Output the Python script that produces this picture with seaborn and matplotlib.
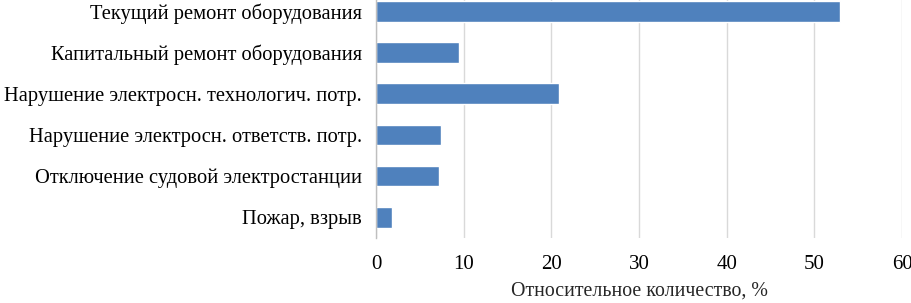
import matplotlib
matplotlib.use("Agg")
import matplotlib.pyplot as plt
import seaborn as sns
import pandas as pd

categories = [
    "Текущий ремонт оборудования",
    "Капитальный ремонт оборудования",
    "Нарушение электросн. технологич. потр.",
    "Нарушение электросн. ответств. потр.",
    "Отключение судовой электростанции",
    "Пожар, взрыв",
]
values = [52.9, 9.5, 20.9, 7.4, 7.2, 1.8]
xticks = [0, 10, 20, 30, 40, 50, 60]
xlabel = "Относительное количество, %"

sns.set_theme(style="white")
plt.rcParams['font.family'] = ['Liberation Serif', 'DejaVu Serif']

df = pd.DataFrame({"cat": categories, "val": values})

fig = plt.figure(figsize=(9.12, 3.03), dpi=100)
ax = fig.add_axes([0.4123, 0.2145, 0.5768, 0.8165])
sns.barplot(data=df, x="val", y="cat", orient="h", color="#4F81BD",
            saturation=1, width=0.5, ax=ax)
ax.set_xlim(0, 60)
ax.set_xticks(xticks)
ax.set_xticklabels([str(t) for t in xticks], fontsize=15)
ax.set_ylim(5.5, -0.5)
ax.tick_params(axis="y", length=0, pad=10, labelsize=14.8)
ax.tick_params(axis="x", length=0, pad=12)
ax.grid(axis="x", color="#D9D9D9", linewidth=1)
ax.set_axisbelow(True)
for s in ["top", "right", "bottom"]:
    ax.spines[s].set_visible(False)
ax.spines["left"].set_color("#BFBFBF")
ax.spines["left"].set_linewidth(1)
ax.set_ylabel("")
ax.set_xlabel(xlabel, fontsize=14.3, labelpad=6)
for lab in ax.get_yticklabels():
    lab.set_color("#000000")
for lab in ax.get_xticklabels():
    lab.set_color("#000000")

fig.savefig("out.png", dpi=100)
